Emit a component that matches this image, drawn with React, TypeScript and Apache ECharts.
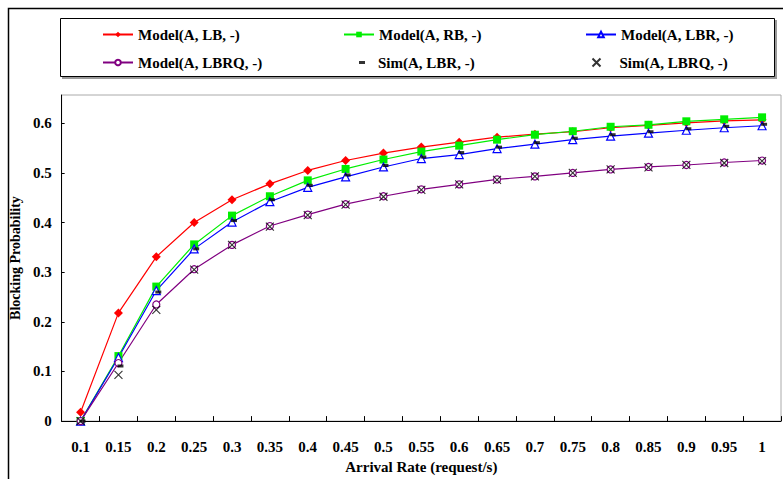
import React, { useEffect, useRef } from "react";
import * as echarts from "echarts";

const categories = ["0.1","0.15","0.2","0.25","0.3","0.35","0.4","0.45","0.5","0.55","0.6","0.65","0.7","0.75","0.8","0.85","0.9","0.95","1"];
const modelLB = [0.018,0.218,0.331,0.400,0.446,0.478,0.505,0.525,0.540,0.552,0.562,0.572,0.578,0.583,0.591,0.596,0.601,0.605,0.607];
const modelRB = [0.0,0.131,0.271,0.356,0.414,0.453,0.485,0.508,0.527,0.543,0.555,0.567,0.577,0.584,0.593,0.597,0.604,0.608,0.612];
const modelLBR = [0.0,0.128,0.263,0.347,0.401,0.442,0.471,0.492,0.512,0.529,0.537,0.549,0.558,0.567,0.574,0.580,0.586,0.591,0.595];
const modelLBRQ = [0.0,0.117,0.235,0.306,0.355,0.393,0.416,0.437,0.453,0.467,0.477,0.487,0.493,0.500,0.507,0.512,0.516,0.521,0.525];
const simLBR = [0.0,0.111,0.260,0.347,0.404,0.446,0.475,0.496,0.515,0.532,0.541,0.552,0.561,0.570,0.577,0.583,0.589,0.594,0.598];
const simLBRQ = [0.0,0.093,0.224,0.305,0.355,0.392,0.415,0.436,0.452,0.466,0.477,0.486,0.493,0.500,0.507,0.511,0.516,0.520,0.524];
const yTicks = [0, 0.1, 0.2, 0.3, 0.4, 0.5, 0.6];

const FONT = "Liberation Serif";
const crossPath = "path://M0,0L10,10M10,0L0,10";

export default function App() {
  const ref = useRef<HTMLDivElement>(null);
  useEffect(() => {
    if (!ref.current) return;
    const chart = echarts.init(ref.current, undefined, { renderer: "svg" });
    const txt = { fontFamily: FONT, fontWeight: "bold" as const, fontSize: 15, color: "#000" };
    const lineLegend = { itemWidth: 30, itemHeight: 7 };
    const legends = [
      { name: "Model(A, LB, -)", left: 97, top: 22, ...lineLegend, pad: 0 },
      { name: "Model(A, RB, -)", left: 338, top: 22, ...lineLegend, pad: 0 },
      { name: "Model(A, LBR, -)", left: 580, top: 22, ...lineLegend, pad: 0 },
      { name: "Model(A, LBRQ, -)", left: 97, top: 50, ...lineLegend, pad: 0 },
      { name: "Sim(A, LBR, -)", left: 354, top: 50, itemWidth: 6, itemHeight: 3, pad: 8 },
      { name: "Sim(A, LBRQ, -)", left: 585, top: 50, itemWidth: 8, itemHeight: 8, pad: 14 },
    ];
    const lineSeries = (name: string, data: number[], color: string, symbol: string, size: number, hollow: boolean) => ({
      name,
      type: "line",
      data,
      symbol,
      symbolSize: size,
      showSymbol: true,
      lineStyle: { color, width: 1.2 },
      itemStyle: hollow
        ? { color: "#fff", borderColor: color, borderWidth: 1.2 }
        : { color, borderColor: color, borderWidth: 0 },
      z: 2,
    });
    chart.setOption({
      animation: false,
      backgroundColor: "#fff",
      graphic: [
        { type: "rect", shape: { x: 8.5, y: 8.5, width: 800, height: 500 }, style: { fill: "none", stroke: "#000", lineWidth: 1.5 }, z: 0, silent: true },
        { type: "rect", shape: { x: 62, y: 20, width: 715, height: 59 }, style: { fill: "#999", stroke: "none" }, z: 0, silent: true },
        { type: "rect", shape: { x: 60.5, y: 18.5, width: 714, height: 58 }, style: { fill: "#fff", stroke: "#000", lineWidth: 1 }, z: 1, silent: true },
      ],
      legend: legends.map((l) => ({
        data: [l.name],
        left: l.left,
        top: l.top,
        itemWidth: l.itemWidth,
        itemHeight: l.itemHeight,
        itemGap: 5,
        textStyle: { ...txt, padding: [0, 0, 0, l.pad] },
        z: 5,
      })),
      grid: {
        left: 59,
        right: 2,
        top: 95,
        bottom: 52,
        show: true,
        borderColor: "#aaa",
        borderWidth: 1,
        backgroundColor: "transparent",
      },
      xAxis: {
        type: "category",
        data: categories,
        boundaryGap: true,
        name: "Arrival Rate (request/s)",
        nameLocation: "middle",
        nameGap: 32,
        nameTextStyle: { ...txt, fontSize: 15 },
        axisLine: { lineStyle: { color: "#000", width: 1 } },
        axisTick: { show: true, inside: true, length: 5, lineStyle: { color: "#000" } },
        axisLabel: { ...txt, margin: 18, interval: 0 },
        splitLine: { show: false },
      },
      yAxis: {
        type: "value",
        min: 0,
        max: 0.657,
        interval: 0.1,
        name: "Blocking Probability",
        nameLocation: "middle",
        nameGap: 31,
        nameTextStyle: { ...txt, fontSize: 14 },
        axisLine: { show: true, lineStyle: { color: "#000", width: 1 } },
        axisTick: { show: true, inside: true, length: 3, lineStyle: { color: "#000" } },
        axisLabel: {
          ...txt,
          margin: 10,
          showMaxLabel: false,
          formatter: (v: number) => {
            const t = yTicks.find((x) => Math.abs(x - v) < 1e-6);
            return t === undefined ? "" : String(t);
          },
        },
        splitLine: { show: false },
      },
      series: [
        lineSeries("Model(A, LB, -)", modelLB, "#ff0000", "diamond", 9, false),
        lineSeries("Model(A, RB, -)", modelRB, "#00ee00", "rect", 8, false),
        lineSeries("Model(A, LBR, -)", modelLBR, "#0000ff", "triangle", 8, true),
        lineSeries("Model(A, LBRQ, -)", modelLBRQ, "#800080", "circle", 7, true),
        {
          name: "Sim(A, LBR, -)",
          type: "scatter",
          data: simLBR,
          symbol: "rect",
          symbolSize: [6, 3],
          symbolOffset: [2, 0],
          itemStyle: { color: "#000" },
          z: 3,
        },
        {
          name: "Sim(A, LBRQ, -)",
          type: "scatter",
          data: simLBRQ,
          symbol: crossPath,
          symbolSize: 8,
          itemStyle: { color: "none", borderColor: "#000", borderWidth: 1.1 },
          z: 3,
        },
      ],
    });
    return () => chart.dispose();
  }, []);
  return <div ref={ref} style={{ position: "absolute", left: 0, top: 0, width: 783, height: 479 }} />;
}
